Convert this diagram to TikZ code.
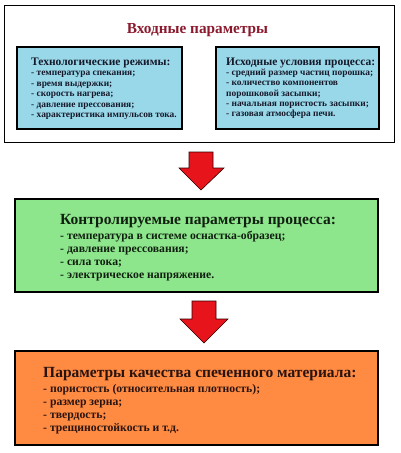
\documentclass[tikz,border=0pt]{standalone}
\usepackage{fontspec}
\setmainfont{Liberation Serif}
\definecolor{titlered}{HTML}{8B1A2E}
\definecolor{boxblue}{HTML}{99D8E9}
\definecolor{boxgreen}{HTML}{8EE68C}
\definecolor{boxorange}{HTML}{FF8A42}
\definecolor{arrowred}{HTML}{E8141C}
\definecolor{txtblue}{HTML}{15192A}
\definecolor{txtgreen}{HTML}{102010}
\definecolor{txtorange}{HTML}{2A1410}
\newcommand{\itemlist}[3]{{\fontsize{#1}{#2}\selectfont\begin{tabular}[t]{@{}l@{}}#3\end{tabular}}}
\begin{document}
\begin{tikzpicture}[x=1pt,y=-1pt,
  panel/.style={draw=black,line width=1.5pt},
  txt/.style={anchor=base west,inner sep=0pt,font=\bfseries},
  bigarrow/.style={fill=arrowred,draw=black!80!red,line width=0.6pt}]
\useasboundingbox (0,0) rectangle (400,453);
% outer box
\node[panel,line width=1.3pt,minimum width=390pt,minimum height=137pt,anchor=north west,inner sep=0pt] (outer) at (4,5) {};
\node[txt,anchor=base,font=\bfseries\fontsize{15.3}{18}\selectfont,text=titlered] (title) at (197.5,33) {Входные параметры};
% blue boxes
\draw[panel,fill=boxblue] (17,47) rectangle (182,129);
\draw[panel,fill=boxblue] (216,47) rectangle (379,129);
\node[txt,text=txtblue,font=\bfseries\fontsize{11.5}{12}\selectfont] (lt) at (31,65.5) {Технологические режимы:};
\node[txt,text=txtblue] (ll) at (31,75.5) {\itemlist{9.4}{10.6}{- температура спекания;\\- время выдержки;\\- скорость нагрева;\\- давление прессования;\\- характеристика импульсов тока.}};
\node[txt,text=txtblue,font=\bfseries\fontsize{11.5}{12}\selectfont] (rt) at (226,65.5) {Исходные условия процесса:};
\node[txt,text=txtblue] (rl) at (226,75.5) {\itemlist{9.4}{10.3}{- средний размер частиц порошка;\\- количество компонентов\\порошковой засыпки;\\- начальная пористость засыпки;\\- газовая атмосфера печи.}};
% arrow 1
\draw[bigarrow] (189,152) -- (213,152) -- (213,168) -- (224,168) -- (201,190) -- (179,168) -- (189,168) -- cycle;
% green box
\draw[panel,fill=boxgreen] (15,199) rectangle (378,292);
\node[txt,text=txtgreen,font=\bfseries\fontsize{15.5}{16}\selectfont] (gt) at (60,224) {Контролируемые параметры процесса:};
\node[txt,text=txtgreen] (gl) at (60,239.5) {\itemlist{11.7}{13}{- температура в системе оснастка-образец;\\- давление прессования;\\- сила тока;\\- электрическое напряжение.}};
% arrow 2
\draw[bigarrow] (192,301) -- (216,301) -- (216,319) -- (228,319) -- (204,343) -- (180,319) -- (192,319) -- cycle;
% orange box
\draw[panel,fill=boxorange] (15,351) rectangle (378,445);
\node[txt,text=txtorange,font=\bfseries\fontsize{15.5}{16}\selectfont] (ot) at (43,377) {Параметры качества спеченного материала:};
\node[txt,text=txtorange] (ol) at (43,392) {\itemlist{11.7}{13}{- пористость (относительная плотность);\\- размер зерна;\\- твердость;\\- трещиностойкость и т.д.}};
\end{tikzpicture}
\end{document}
